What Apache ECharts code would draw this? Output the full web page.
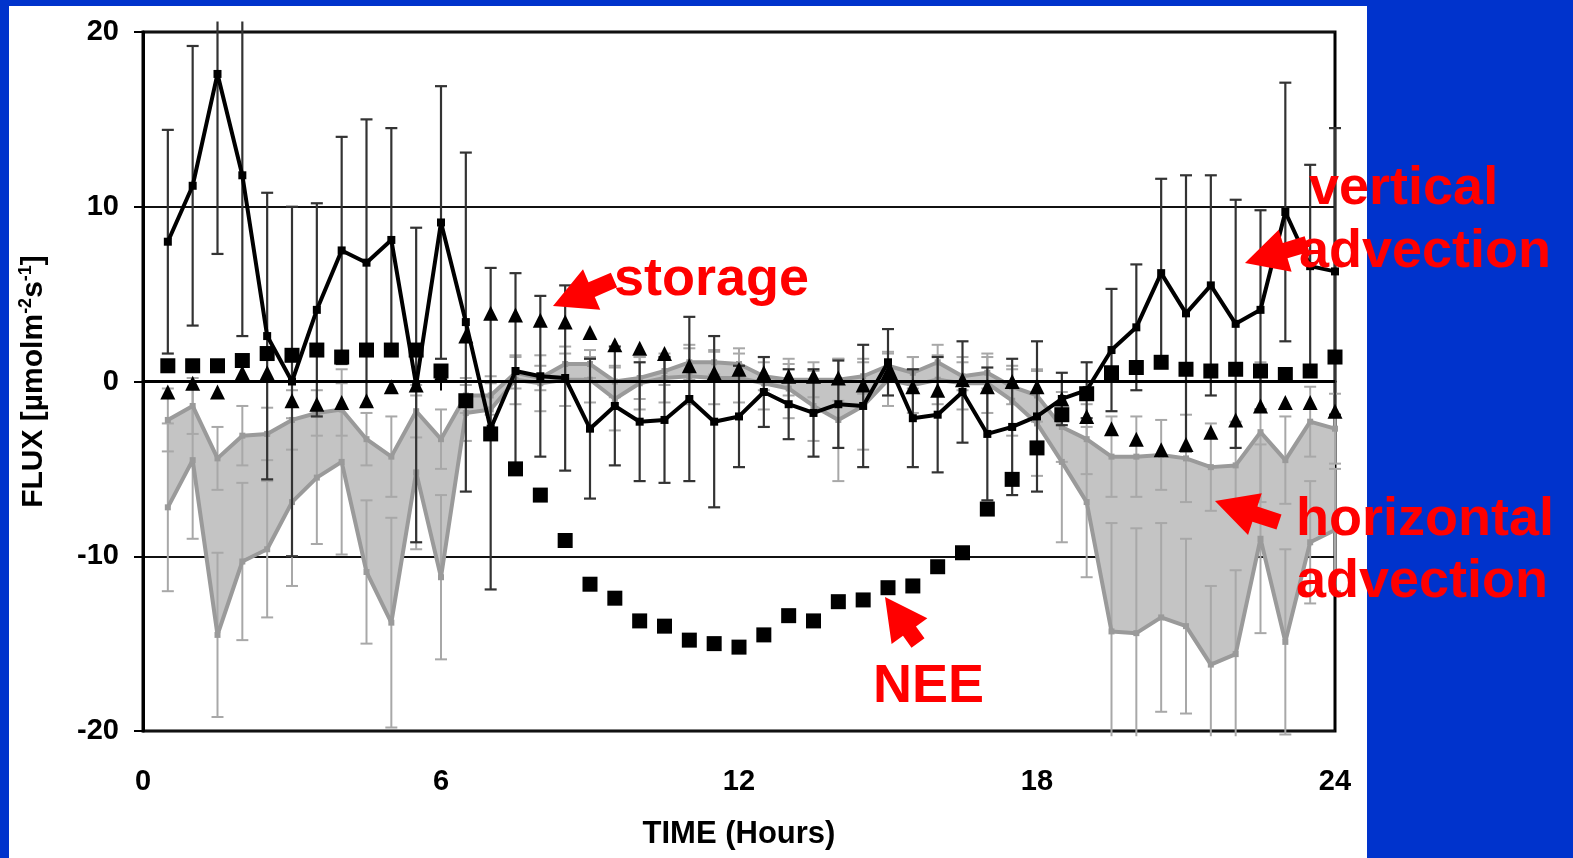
<!DOCTYPE html>
<html><head><meta charset="utf-8">
<script src="https://cdn.jsdelivr.net/npm/echarts@6/dist/echarts.min.js"></script>
<style>
html,body{margin:0;padding:0;background:#0033cc;width:1573px;height:858px;overflow:hidden}
#panel{position:absolute;left:9px;top:6px;width:1358px;height:852px;background:#fff}
#chart{position:absolute;left:0;top:0;width:1573px;height:858px}
</style></head>
<body><div id="panel"></div><div id="chart"></div>
<script>
const hours = [0.5,1,1.5,2,2.5,3,3.5,4,4.5,5,5.5,6,6.5,7,7.5,8,8.5,9,9.5,10,10.5,11,11.5,12,12.5,13,13.5,14,14.5,15,15.5,16,16.5,17,17.5,18,18.5,19,19.5,20,20.5,21,21.5,22,22.5,23,23.5,24];
const xTicks = [0,6,12,18,24];
const yTicks = [-20,-10,0,10,20];
// vertical advection (black line) and its error
const vert = [8.0,11.2,17.6,11.8,2.6,0.0,4.1,7.5,6.8,8.1,-0.2,9.1, 3.4,-2.7,0.6,0.3,0.2,-2.7,-1.4,-2.3,-2.2,-1.0,-2.3,-2.0, -0.6,-1.3,-1.8,-1.3,-1.4,1.1,-2.1,-1.9,-0.6,-3.0,-2.6,-2.0, -1.0,-0.5,1.8,3.1,6.2,3.9,5.5,3.3,4.1,9.7,6.6,6.3];
const vertErr = [6.4,8.0,10.3,9.2,8.2,10.0,6.1,6.5,8.2,6.4,9.0,7.8, 9.7,9.2,5.6,4.6,5.3,4.0,3.4,3.4,3.6,4.7,4.9,2.9, 2.0,2.0,2.5,2.5,3.5,1.9,2.8,3.3,2.9,3.8,3.9,4.3, 1.5,1.6,3.5,3.6,5.4,7.9,6.3,7.1,5.7,7.4,5.8,8.2];
// NEE (black squares)
const nee = [0.9,0.9,0.9,1.2,1.6,1.5,1.8,1.4,1.8,1.8,1.8,0.6, -1.1,-3.0,-5.0,-6.5,-9.1,-11.6,-12.4,-13.7,-14.0,-14.8,-15.0,-15.2, -14.5,-13.4,-13.7,-12.6,-12.5,-11.8,-11.7,-10.6,-9.8,-7.3,-5.6,-3.8, -1.9,-0.7,0.5,0.8,1.1,0.7,0.6,0.7,0.6,0.4,0.6,1.4];
// storage (black triangles)
const storage = [-0.6,-0.1,-0.6,0.5,0.5,-1.1,-1.3,-1.2,-1.1,-0.3,-0.2,0.4, 2.6,3.9,3.8,3.5,3.4,2.8,2.1,1.9,1.6,0.9,0.5,0.7, 0.5,0.3,0.3,0.2,-0.2,0.5,-0.3,-0.5,0.1,-0.3,0.0,-0.3, -1.0,-2.0,-2.7,-3.3,-3.9,-3.6,-2.9,-2.2,-1.4,-1.2,-1.2,-1.7];
// horizontal advection: upper and lower estimates (grey band) and errors
const hUp = [-2.2,-1.4,-4.4,-3.1,-3.0,-2.2,-1.8,-1.6,-3.3,-4.3,-1.7,-3.3, -0.8,-0.8,0.5,0.2,1.0,1.0,0.0,0.2,0.6,1.1,1.1,1.0, 0.3,0.1,0.1,0.1,0.3,0.9,0.5,1.1,0.3,0.5,-0.3,-0.8, -2.6,-3.3,-4.3,-4.3,-4.2,-4.4,-4.9,-4.8,-2.9,-4.5,-2.3,-2.7];
const hLo = [-7.2,-4.5,-14.5,-10.3,-9.6,-6.9,-5.5,-4.6,-10.9,-13.8,-5.2,-11.2, -1.8,-1.6,0.1,-0.1,0.1,0.1,-1.0,-0.1,0.2,0.3,0.2,0.2, -0.1,-0.4,-1.4,-2.2,-1.4,0.1,-0.2,0.1,-0.1,-0.1,-1.1,-2.4, -4.6,-6.9,-14.3,-14.4,-13.5,-14.0,-16.2,-15.6,-9.0,-14.9,-9.2,-8.5];
const hUpErr = [1.8,1.6,1.8,1.7,1.5,1.7,1.3,1.5,1.5,2.3,1.5,1.7, 1.0,1.1,0.9,0.7,1.0,0.8,0.9,1.2,0.8,1.0,0.7,0.9, 0.8,0.9,1.0,1.2,1.0,0.8,0.9,1.0,0.8,0.9,1.0,1.5, 2.0,2.0,2.3,2.3,2.0,2.5,2.5,2.5,4.0,2.5,2.0,2.0];
const hLoErr = [4.8,4.5,4.7,4.5,3.9,4.8,3.8,5.3,4.1,6.0,4.4,4.7, 1.6,1.5,1.4,1.6,1.5,1.3,1.8,1.5,1.4,1.6,1.5,1.4, 1.5,1.7,2.0,3.5,2.5,1.5,1.6,1.4,1.5,1.7,2.0,3.0, 4.6,4.3,6.2,6.0,5.4,5.0,4.5,4.8,5.4,5.3,3.5,3.5];

const FONT = '"Liberation Sans", Arial, sans-serif';
const chart = echarts.init(document.getElementById('chart'), null, {renderer:'canvas'});

function errRender(color, width, capHalf) {
  return function (params, api) {
    const x = api.value(0), lo = api.value(1), hi = api.value(2);
    const hiC = Math.min(hi, 20.6), loC = Math.max(lo, -20.3);
    const pLo = api.coord([x, loC]), pHi = api.coord([x, hiC]);
    const style = {stroke: color, lineWidth: width};
    const ch = [{type:'line', shape:{x1:pLo[0], y1:pLo[1], x2:pHi[0], y2:pHi[1]}, style}];
    if (hi <= 20.6) ch.push({type:'line', shape:{x1:pHi[0]-capHalf, y1:pHi[1], x2:pHi[0]+capHalf, y2:pHi[1]}, style});
    if (lo >= -20.3) ch.push({type:'line', shape:{x1:pLo[0]-capHalf, y1:pLo[1], x2:pLo[0]+capHalf, y2:pLo[1]}, style});
    return {type:'group', children: ch};
  };
}

function arrow(tip, tail, shaftHalf, headHalf, headLen) {
  const dx = tail[0]-tip[0], dy = tail[1]-tip[1];
  const L = Math.sqrt(dx*dx+dy*dy), ux = dx/L, uy = dy/L, nx = -uy, ny = ux;
  const bx = tip[0]+ux*headLen, by = tip[1]+uy*headLen;
  return {type:'polygon', z:100, shape:{points:[
    tip,
    [bx+nx*headHalf, by+ny*headHalf],
    [bx+nx*shaftHalf, by+ny*shaftHalf],
    [tail[0]+nx*shaftHalf, tail[1]+ny*shaftHalf],
    [tail[0]-nx*shaftHalf, tail[1]-ny*shaftHalf],
    [bx-nx*shaftHalf, by-ny*shaftHalf],
    [bx-nx*headHalf, by-ny*headHalf]
  ]}, style:{fill:'#ff0000'}};
}
function label(text, x, y) {
  return {type:'text', x:x, y:y, z:100, style:{text:text, fill:'#ff0000', font:'bold 54px ' + FONT, align:'left', verticalAlign:'middle'}};
}

const pair = arr => hours.map((h,i)=>[h, arr[i]]);

const option = {
  animation: false,
  grid: {left:143, right:238, top:32, bottom:127, show:true, borderColor:'#000', borderWidth:3, backgroundColor:'transparent'},
  xAxis: {
    type:'value', min:xTicks[0], max:xTicks[xTicks.length-1], interval:6,
    axisLine:{show:true, lineStyle:{color:'#000', width:3}},
    axisTick:{show:true, length:9, lineStyle:{color:'#000', width:2}},
    axisLabel:{color:'#000', fontFamily:FONT, fontWeight:'bold', fontSize:29, margin:36},
    splitLine:{show:false},
    name:'TIME (Hours)', nameLocation:'middle', nameGap:88,
    nameTextStyle:{color:'#000', fontFamily:FONT, fontWeight:'bold', fontSize:31}
  },
  yAxis: {
    type:'value', min:yTicks[0], max:yTicks[yTicks.length-1], interval:10,
    axisLine:{show:true, lineStyle:{color:'#000', width:3}},
    axisTick:{show:true, length:9, lineStyle:{color:'#000', width:2}},
    axisLabel:{color:'#000', fontFamily:FONT, fontWeight:'bold', fontSize:29, margin:24},
    splitLine:{show:true, lineStyle:{color:'#111', width:2}},
    name:'{b|FLUX [µmolm}{s|-2}{b|s}{s|-1}{b|]}', nameLocation:'middle', nameGap:92, nameRotate:90,
    nameTextStyle:{color:'#000', rich:{
      b:{fontFamily:FONT, fontWeight:'bold', fontSize:30, color:'#000', lineHeight:34},
      s:{fontFamily:FONT, fontWeight:'bold', fontSize:18, color:'#000', lineHeight:34, verticalAlign:'top'}
    }}
  },
  series: [
    { name:'band', type:'custom', z:1, clip:true,
      data: hours.map((h,i)=>[h, hLo[i], hUp[i]]),
      encode:{x:0, y:[1,2]},
      renderItem: function (params, api) {
        if (params.dataIndex !== 0) return null;
        const pts = [];
        for (let i=0;i<hours.length;i++) pts.push(api.coord([hours[i], hUp[i]]));
        for (let i=hours.length-1;i>=0;i--) pts.push(api.coord([hours[i], hLo[i]]));
        return {type:'polygon', shape:{points:pts}, style:{fill:'#c4c4c4'}};
      },
      markLine:{silent:true, symbol:'none', label:{show:false}, lineStyle:{color:'#000', width:3, type:'solid'}, data:[{yAxis:0}]}
    },
    { name:'hUpErr', type:'custom', z:2, clip:false,
      data: hours.map((h,i)=>[h, hUp[i]-hUpErr[i], hUp[i]+hUpErr[i]]), encode:{x:0, y:[1,2]},
      renderItem: errRender('#a8a8a8', 2, 6) },
    { name:'hLoErr', type:'custom', z:2, clip:false,
      data: hours.map((h,i)=>[h, hLo[i]-hLoErr[i], hLo[i]+hLoErr[i]]), encode:{x:0, y:[1,2]},
      renderItem: errRender('#a8a8a8', 2, 6) },
    { name:'hUp', type:'line', z:3, data: pair(hUp), symbol:'rect', symbolSize:6,
      itemStyle:{color:'#9a9a9a'}, lineStyle:{color:'#9a9a9a', width:4} },
    { name:'hLo', type:'line', z:3, data: pair(hLo), symbol:'rect', symbolSize:6,
      itemStyle:{color:'#9a9a9a'}, lineStyle:{color:'#9a9a9a', width:4} },
    { name:'vertErr', type:'custom', z:4, clip:false,
      data: hours.map((h,i)=>[h, vert[i]-vertErr[i], vert[i]+vertErr[i]]), encode:{x:0, y:[1,2]},
      renderItem: errRender('#333', 2.2, 6) },
    { name:'vertical', type:'line', z:5, data: pair(vert), symbol:'rect', symbolSize:8,
      itemStyle:{color:'#000'}, lineStyle:{color:'#000', width:4} },
    { name:'NEE', type:'scatter', z:6, data: pair(nee), symbol:'rect', symbolSize:15,
      itemStyle:{color:'#000', opacity:1} },
    { name:'storage', type:'scatter', z:7, data: pair(storage), symbol:'triangle', symbolSize:15,
      itemStyle:{color:'#000', opacity:1} }
  ],
  graphic: [
    arrow([553,306],[614,280],8,22,42),
    arrow([1245,263],[1307,244],8,22,42),
    arrow([1215,501],[1279,522],8,22,42),
    arrow([885,597],[918,643],8,22,42),
    label('storage', 614, 280),
    label('vertical', 1309, 189),
    label('advection', 1299, 252),
    label('horizontal', 1296, 520),
    label('advection', 1296, 582),
    label('NEE', 873, 687)
  ]
};
chart.setOption(option);
</script>
</body></html>
